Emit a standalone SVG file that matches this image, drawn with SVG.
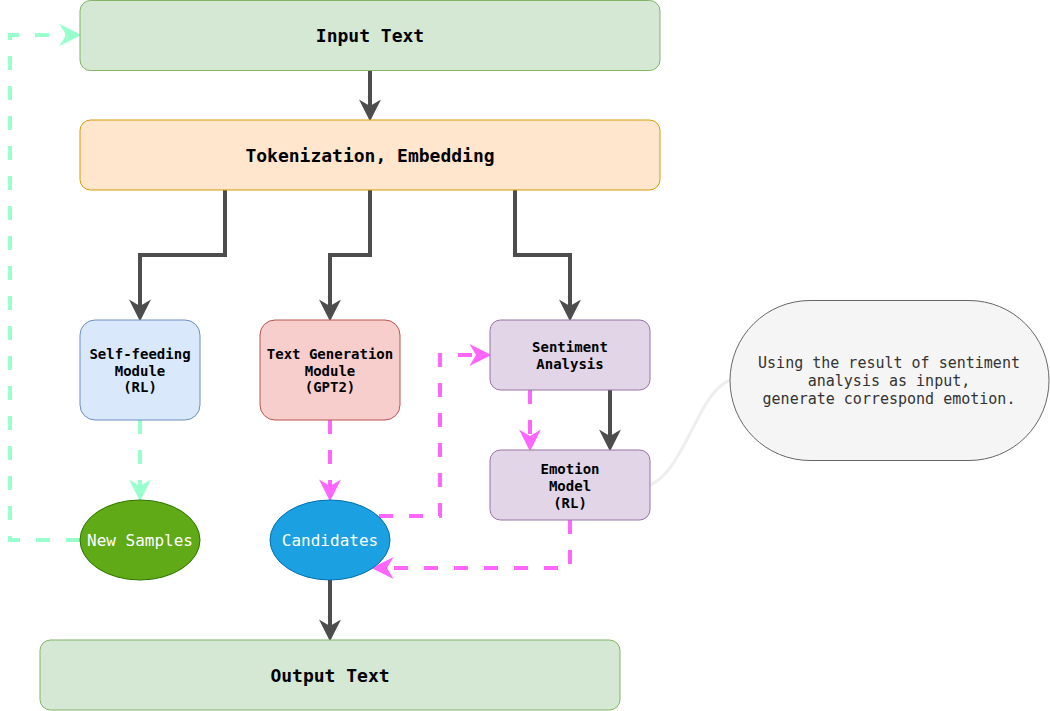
<svg xmlns="http://www.w3.org/2000/svg" width="1050" height="711" viewBox="0 0 1050 711">
<style>
text{font-family:"DejaVu Sans Mono","Liberation Mono",monospace;text-anchor:middle}
.t18{font-size:18px;font-weight:bold;fill:#000}
.t14{font-size:14px;font-weight:bold;fill:#000}
.t16w{font-size:16px;fill:#fff}
.t15{font-size:15px;fill:#333}
.solid{fill:none;stroke:#4d4d4d;stroke-width:4}
.pink{fill:none;stroke:#ff66ff;stroke-width:4;stroke-dasharray:14 16}
.green{fill:none;stroke:#99ffcc;stroke-width:4;stroke-dasharray:14 16}
</style>
<defs>
<marker id="aD" markerUnits="userSpaceOnUse" markerWidth="22" markerHeight="22" viewBox="0 0 20 20" refX="6" refY="10" orient="auto"><path d="M0,0 L20,10 L0,20 L6,10 Z" fill="#4d4d4d"/></marker>
<marker id="aP" markerUnits="userSpaceOnUse" markerWidth="22" markerHeight="22" viewBox="0 0 20 20" refX="6" refY="10" orient="auto"><path d="M0,0 L20,10 L0,20 L6,10 Z" fill="#ff66ff"/></marker>
<marker id="aG" markerUnits="userSpaceOnUse" markerWidth="22" markerHeight="22" viewBox="0 0 20 20" refX="6" refY="10" orient="auto"><path d="M0,0 L20,10 L0,20 L6,10 Z" fill="#99ffcc"/></marker>
</defs>
<rect width="1050" height="711" fill="#fff"/>
<g id="connectors">
<path class="solid" d="M370,70 V106" marker-end="url(#aD)"/>
<path class="solid" d="M225,190 V255 H140 V306" marker-end="url(#aD)"/>
<path class="solid" d="M370,190 V255 H330 V306" marker-end="url(#aD)"/>
<path class="solid" d="M515,190 V255 H570 V306" marker-end="url(#aD)"/>
<path class="solid" d="M610,390 V436" marker-end="url(#aD)"/>
<path class="solid" d="M330,580 V626" marker-end="url(#aD)"/>
<path class="pink" d="M530,390 V436" marker-end="url(#aP)"/>
<path class="pink" d="M330,420 V486" marker-end="url(#aP)"/>
<path class="pink" d="M379,516 H440 V355 H476" marker-end="url(#aP)"/>
<path class="pink" d="M570,520 V568 H387" marker-end="url(#aP)"/>
<path class="green" d="M140,420 V486" marker-end="url(#aG)"/>
<path class="green" d="M80,540 H10 V35 H66" marker-end="url(#aG)"/>
<path d="M650,485 C685,470 698,392 730,380" fill="none" stroke="#eeeeee" stroke-width="3"/>
</g>
<g id="input-text">
<rect x="80" y="0.5" width="580" height="70" rx="10.5" fill="#d5e8d4" stroke="#82b366"/>
<text class="t18" x="370" y="42">Input Text</text>
</g>
<g id="tokenization">
<rect x="80" y="120" width="580" height="70" rx="10.5" fill="#ffe6cc" stroke="#d79b00"/>
<text class="t18" x="370" y="162">Tokenization, Embedding</text>
</g>
<g id="self-feeding">
<rect x="80" y="320" width="120" height="100" rx="15" fill="#dae8fc" stroke="#6c8ebf"/>
<text class="t14" x="140" y="359">Self-feeding</text>
<text class="t14" x="140" y="376">Module</text>
<text class="t14" x="140" y="392">(RL)</text>
</g>
<g id="text-generation">
<rect x="260" y="320" width="140" height="100" rx="15" fill="#f8cecc" stroke="#b85450"/>
<text class="t14" x="330" y="359">Text Generation</text>
<text class="t14" x="330" y="376">Module</text>
<text class="t14" x="330" y="392">(GPT2)</text>
</g>
<g id="sentiment">
<rect x="490" y="320" width="160" height="70" rx="10.5" fill="#e1d5e7" stroke="#9673a6"/>
<text class="t14" x="570" y="352">Sentiment</text>
<text class="t14" x="570" y="369">Analysis</text>
</g>
<g id="emotion">
<rect x="490" y="450" width="160" height="70" rx="10.5" fill="#e1d5e7" stroke="#9673a6"/>
<text class="t14" x="570" y="474">Emotion</text>
<text class="t14" x="570" y="491">Model</text>
<text class="t14" x="570" y="508">(RL)</text>
</g>
<g id="new-samples">
<ellipse cx="140" cy="540" rx="60" ry="40" fill="#60a917" stroke="#2d7600"/>
<text class="t16w" x="140" y="546">New Samples</text>
</g>
<g id="candidates">
<ellipse cx="330" cy="540" rx="60" ry="40" fill="#1ba1e2" stroke="#006eaf"/>
<text class="t16w" x="330" y="546">Candidates</text>
</g>
<g id="output-text">
<rect x="40" y="640" width="580" height="70" rx="10.5" fill="#d5e8d4" stroke="#82b366"/>
<text class="t18" x="330" y="682">Output Text</text>
</g>
<g id="callout">
<rect x="730" y="300.5" width="319" height="160" rx="80" ry="80" fill="#f5f5f5" stroke="#666666"/>
<text class="t15" x="889" y="368">Using the result of sentiment</text>
<text class="t15" x="889" y="386">analysis as input,</text>
<text class="t15" x="889" y="404">generate correspond emotion.</text>
</g>
</svg>
